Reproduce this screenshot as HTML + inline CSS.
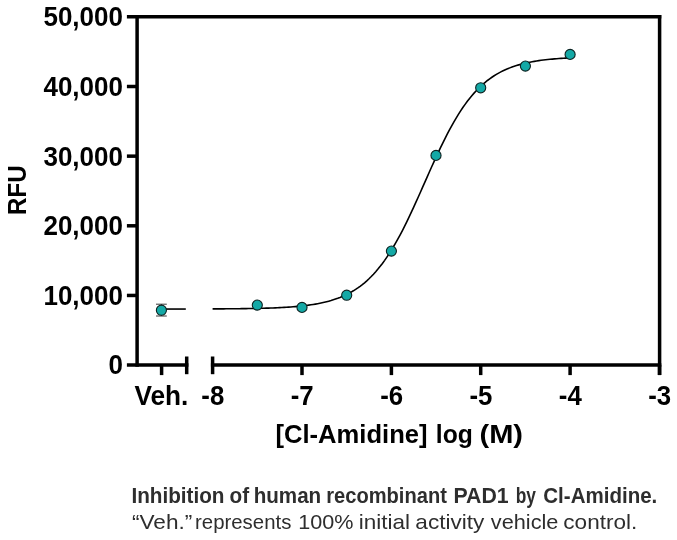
<!DOCTYPE html>
<html><head><meta charset="utf-8"><title>Chart</title>
<style>
html,body{margin:0;padding:0;background:#fff;}
body{width:677px;height:540px;overflow:hidden;font-family:"Liberation Sans",sans-serif;}
svg{display:block;will-change:transform;}
svg text{font-family:"Liberation Sans",sans-serif;}
</style></head><body>
<svg width="677" height="540" viewBox="0 0 677 540">
<g stroke="#000" stroke-width="3.5" fill="none" stroke-linecap="butt">
<line x1="137.1" y1="15" x2="137.1" y2="366.8"/>
<line x1="126.9" y1="16.85" x2="661.3" y2="16.85"/>
<line x1="659.6" y1="15" x2="659.6" y2="375.1"/>
<line x1="126.9" y1="365.1" x2="188.4" y2="365.1"/>
<line x1="210.9" y1="365.1" x2="661.3" y2="365.1"/>
<line x1="186.7" y1="356.5" x2="186.7" y2="374.2"/>
<line x1="212.6" y1="356.5" x2="212.6" y2="374.2"/>
<line x1="161.6" y1="365" x2="161.6" y2="375.1"/>
<line x1="126.9" y1="86.50" x2="137" y2="86.50"/><line x1="126.9" y1="156.15" x2="137" y2="156.15"/><line x1="126.9" y1="225.80" x2="137" y2="225.80"/><line x1="126.9" y1="295.45" x2="137" y2="295.45"/>
<line x1="302.0" y1="365" x2="302.0" y2="375.1"/><line x1="391.4" y1="365" x2="391.4" y2="375.1"/><line x1="480.7" y1="365" x2="480.7" y2="375.1"/><line x1="570.1" y1="365" x2="570.1" y2="375.1"/><line x1="659.5" y1="365" x2="659.5" y2="375.1"/>
</g>
<g stroke="#000" stroke-width="1.6" fill="none">
<path d="M161.5,309.05 L185.8,309.05"/>
<path d="M212.60,308.90 L214.83,308.89 L217.07,308.88 L219.30,308.87 L221.54,308.85 L223.77,308.84 L226.01,308.82 L228.24,308.81 L230.48,308.79 L232.71,308.77 L234.94,308.75 L237.18,308.72 L239.41,308.70 L241.65,308.67 L243.88,308.64 L246.12,308.61 L248.35,308.57 L250.59,308.54 L252.82,308.50 L255.06,308.45 L257.29,308.40 L259.52,308.35 L261.76,308.29 L263.99,308.23 L266.23,308.17 L268.46,308.10 L270.70,308.02 L272.93,307.94 L275.17,307.84 L277.40,307.75 L279.63,307.64 L281.87,307.53 L284.10,307.40 L286.34,307.27 L288.57,307.12 L290.81,306.96 L293.04,306.79 L295.28,306.61 L297.51,306.41 L299.75,306.19 L301.98,305.96 L304.21,305.70 L306.45,305.43 L308.68,305.14 L310.92,304.82 L313.15,304.47 L315.39,304.10 L317.62,303.70 L319.86,303.26 L322.09,302.79 L324.32,302.29 L326.56,301.74 L328.79,301.15 L331.03,300.52 L333.26,299.83 L335.50,299.09 L337.73,298.30 L339.97,297.45 L342.20,296.53 L344.44,295.54 L346.67,294.48 L348.90,293.34 L351.14,292.12 L353.37,290.81 L355.61,289.41 L357.84,287.91 L360.08,286.30 L362.31,284.59 L364.55,282.77 L366.78,280.82 L369.01,278.75 L371.25,276.55 L373.48,274.21 L375.72,271.73 L377.95,269.11 L380.19,266.34 L382.42,263.43 L384.66,260.35 L386.89,257.13 L389.13,253.75 L391.36,250.21 L393.59,246.51 L395.83,242.67 L398.06,238.67 L400.30,234.53 L402.53,230.26 L404.77,225.85 L407.00,221.32 L409.24,216.68 L411.47,211.94 L413.70,207.10 L415.94,202.20 L418.17,197.23 L420.41,192.22 L422.64,187.17 L424.88,182.11 L427.11,177.06 L429.35,172.02 L431.58,167.02 L433.82,162.07 L436.05,157.18 L438.28,152.37 L440.52,147.65 L442.75,143.04 L444.99,138.54 L447.22,134.16 L449.46,129.92 L451.69,125.82 L453.93,121.86 L456.16,118.06 L458.39,114.40 L460.63,110.91 L462.86,107.56 L465.10,104.38 L467.33,101.35 L469.57,98.47 L471.80,95.74 L474.04,93.15 L476.27,90.72 L478.51,88.41 L480.74,86.25 L482.97,84.21 L485.21,82.29 L487.44,80.50 L489.68,78.81 L491.91,77.24 L494.15,75.76 L496.38,74.39 L498.62,73.10 L500.85,71.90 L503.09,70.78 L505.32,69.74 L507.55,68.77 L509.79,67.87 L512.02,67.03 L514.26,66.25 L516.49,65.53 L518.73,64.86 L520.96,64.24 L523.20,63.66 L525.43,63.12 L527.66,62.63 L529.90,62.17 L532.13,61.74 L534.37,61.35 L536.60,60.98 L538.84,60.64 L541.07,60.33 L543.31,60.04 L545.54,59.77 L547.77,59.53 L550.01,59.30 L552.24,59.08 L554.48,58.89 L556.71,58.71 L558.95,58.54 L561.18,58.39 L563.42,58.24 L565.65,58.11 L567.89,57.99 L570.12,57.88"/>
</g>
<g stroke="#222" stroke-width="0.9" fill="none">
<line x1="161.4" y1="304.2" x2="161.4" y2="316"/>
<line x1="156" y1="304.2" x2="166.8" y2="304.2"/>
<line x1="156" y1="316" x2="166.8" y2="316"/>
</g>
<g fill="#14a9a6" stroke="#0d2221" stroke-width="1.1">
<circle cx="161.4" cy="310.2" r="5.05"/>
<circle cx="257.3" cy="305.1" r="5.05"/><circle cx="302.0" cy="307.4" r="5.05"/><circle cx="346.7" cy="295.2" r="5.05"/><circle cx="391.4" cy="251.1" r="5.05"/><circle cx="436.0" cy="155.4" r="5.05"/><circle cx="480.7" cy="87.8" r="5.05"/><circle cx="525.4" cy="66.1" r="5.05"/><circle cx="570.1" cy="54.4" r="5.05"/>
</g>
<g font-weight="bold" font-size="26.2px" fill="#000">
<text transform="translate(122.9,26.2) scale(1,1.05)" text-anchor="end" font-size="26px">50,000</text><text transform="translate(122.9,95.8) scale(1,1.05)" text-anchor="end" font-size="26px">40,000</text><text transform="translate(122.9,165.5) scale(1,1.05)" text-anchor="end" font-size="26px">30,000</text><text transform="translate(122.9,235.1) scale(1,1.05)" text-anchor="end" font-size="26px">20,000</text><text transform="translate(122.9,304.8) scale(1,1.05)" text-anchor="end" font-size="26px">10,000</text><text transform="translate(122.9,374.4) scale(1,1.05)" text-anchor="end" font-size="26px">0</text>
<text transform="translate(212.8,404.6) scale(1,1.04)" text-anchor="middle" font-size="25.8px">-8</text><text transform="translate(302.2,404.6) scale(1,1.04)" text-anchor="middle" font-size="25.8px">-7</text><text transform="translate(391.6,404.6) scale(1,1.04)" text-anchor="middle" font-size="25.8px">-6</text><text transform="translate(480.9,404.6) scale(1,1.04)" text-anchor="middle" font-size="25.8px">-5</text><text transform="translate(570.3,404.6) scale(1,1.04)" text-anchor="middle" font-size="25.8px">-4</text><text transform="translate(659.7,404.6) scale(1,1.04)" text-anchor="middle" font-size="25.8px">-3</text>
<text transform="translate(161.4,404.6) scale(1,1.04)" text-anchor="middle" font-size="26.2px">Veh.</text>
<text transform="translate(25.5,190.2) rotate(-90)" text-anchor="middle" font-size="25.8px" textLength="49.6" lengthAdjust="spacingAndGlyphs">RFU</text>
<g font-size="25.6px"><text x="275.5" y="443" textLength="152" lengthAdjust="spacingAndGlyphs">[Cl-Amidine]</text><text x="435.8" y="443" textLength="37" lengthAdjust="spacingAndGlyphs">log</text><text x="479.5" y="443" textLength="43.5" lengthAdjust="spacingAndGlyphs">(M)</text></g>
</g>
<g fill="#2e2e2e" font-size="20.3px" font-weight="bold"><text transform="translate(131.42,502.6) scale(1,1.050)" textLength="93.07" lengthAdjust="spacingAndGlyphs">Inhibition</text><text transform="translate(229.49,502.6) scale(1,1.050)" textLength="19.57" lengthAdjust="spacingAndGlyphs">of</text><text transform="translate(253.66,502.6) scale(1,1.050)" textLength="67.52" lengthAdjust="spacingAndGlyphs">human</text><text transform="translate(326.28,502.6) scale(1,1.050)" textLength="120.57" lengthAdjust="spacingAndGlyphs">recombinant</text><text transform="translate(453.42,502.6) scale(1,1.050)" textLength="55.16" lengthAdjust="spacingAndGlyphs">PAD1</text><text transform="translate(515.76,502.6) scale(1,1.050)" textLength="20.24" lengthAdjust="spacingAndGlyphs">by</text><text transform="translate(543.26,502.6) scale(1,1.050)" textLength="114.06" lengthAdjust="spacingAndGlyphs">Cl-Amidine.</text></g>
<g fill="#2e2e2e" font-size="20px"><text transform="translate(131.99,529.0) scale(1,1.030)" textLength="60.32" lengthAdjust="spacingAndGlyphs">“Veh.”</text><text transform="translate(195.05,529.0) scale(1,1.030)" textLength="96.29" lengthAdjust="spacingAndGlyphs">represents</text><text transform="translate(298.26,529.0) scale(1,1.030)" textLength="55.21" lengthAdjust="spacingAndGlyphs">100%</text><text transform="translate(358.69,529.0) scale(1,1.030)" textLength="51.31" lengthAdjust="spacingAndGlyphs">initial</text><text transform="translate(415.34,529.0) scale(1,1.030)" textLength="69.00" lengthAdjust="spacingAndGlyphs">activity</text><text transform="translate(490.83,529.0) scale(1,1.030)" textLength="67.54" lengthAdjust="spacingAndGlyphs">vehicle</text><text transform="translate(563.34,529.0) scale(1,1.030)" textLength="73.92" lengthAdjust="spacingAndGlyphs">control.</text></g>
</svg>
</body></html>
